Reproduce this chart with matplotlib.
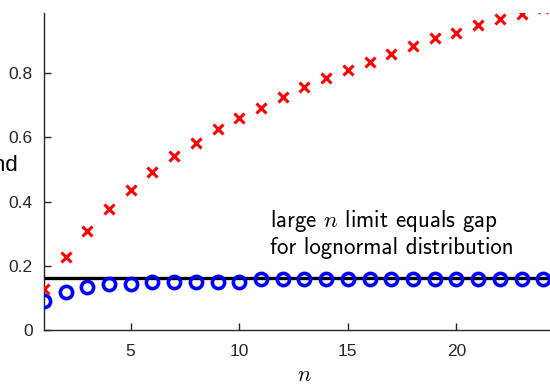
import matplotlib
matplotlib.use("Agg")
import matplotlib.pyplot as plt
import numpy as np

n = list(range(1, 25))
red_vals = [0.127, 0.227, 0.310, 0.376, 0.435, 0.493, 0.543, 0.583, 0.626, 0.660,
            0.692, 0.724, 0.757, 0.783, 0.809, 0.834, 0.858, 0.883, 0.908, 0.925,
            0.949, 0.967, 0.983, 1.003]
blue_vals = [0.092, 0.118, 0.136, 0.143, 0.143, 0.151, 0.151, 0.151, 0.151, 0.151,
             0.159, 0.159, 0.159, 0.159, 0.159, 0.159, 0.159, 0.159, 0.159, 0.159,
             0.159, 0.159, 0.159, 0.159]
limit_val = 0.164
xticks = [5, 10, 15, 20]
yticks = [0, 0.2, 0.4, 0.6, 0.8]
ytick_labels = ["0", "0.2", "0.4", "0.6", "0.8"]
annot = "large $n$ limit equals gap\nfor lognormal distribution"

plt.rcParams['mathtext.fontset'] = 'cm'

W, H = 550, 391
fig = plt.figure(figsize=(W / 100, H / 100), dpi=100)
left, bottom = 43.8, 330.3
right, top = 565.0, 13.0
ax = fig.add_axes([left / W, (H - bottom) / H, (right - left) / W, (bottom - top) / H])

ax.axhline(limit_val, color='black', lw=2.4, zorder=2)
ax.plot(n, blue_vals, 'o', ms=8.8, mfc='none', mec='#0000ff', mew=2.6, zorder=3)
ax.plot(n, red_vals, 'x', ms=6.5, color='#ff0000', mew=2.2, zorder=4)

ax.set_xlim(1, 25)
ax.set_ylim(0, (bottom - top) / 321.7)
ax.set_xticks(xticks)
ax.set_yticks(yticks)
ax.set_yticklabels(ytick_labels)
for s in ['top', 'right']:
    ax.spines[s].set_visible(False)
for s in ['left', 'bottom']:
    ax.spines[s].set_color('#262626')
    ax.spines[s].set_linewidth(1.0)
ax.tick_params(direction='in', length=5, width=1.0, color='#262626',
               labelcolor='#262626', labelsize=12.5)
ax.tick_params(axis='y', pad=8)
ax.tick_params(axis='x', pad=10)
for lab in ax.get_xticklabels() + ax.get_yticklabels():
    lab.set_family(['Liberation Sans', 'DejaVu Sans'])

ax.set_xlabel('$n$', fontsize=16, labelpad=4)
ax.text(270 / W, (H - 254) / H, annot, transform=fig.transFigure,
        fontsize=16.5, family='cmss10', ha='left', va='baseline',
        linespacing=1.15)
fig.text(18 / W, (H - 165) / H, 'bound', fontsize=16, ha='right', va='center',
         family=['Liberation Sans', 'DejaVu Sans'])

fig.savefig('out.png', dpi=100)
